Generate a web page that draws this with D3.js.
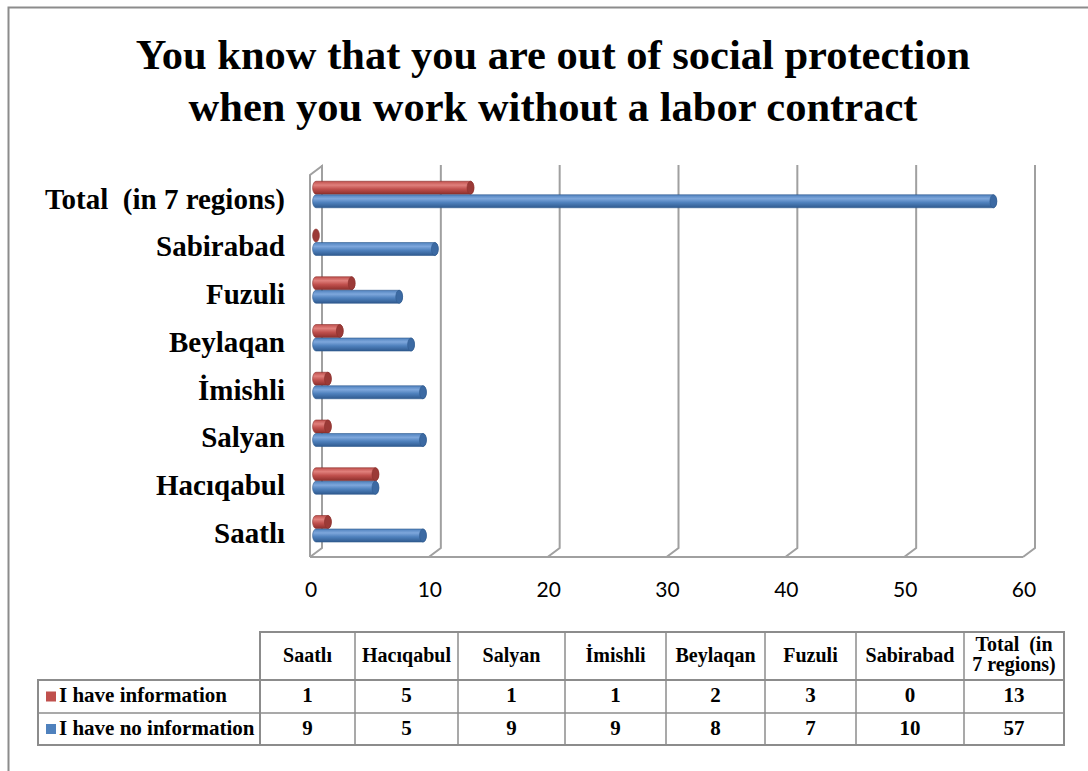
<!DOCTYPE html>
<html>
<head>
<meta charset="utf-8">
<script src="https://cdnjs.cloudflare.com/ajax/libs/d3/7.8.5/d3.min.js"></script>
<style>
  html, body { margin: 0; padding: 0; background: #fff; }
  svg { display: block; }
  text { white-space: pre; }
</style>
</head>
<body>
<svg id="chart" width="1088" height="771"></svg>
<script>
// Regions, in table order (the bar chart lists them bottom-to-top)
const regions = ["Saatlı", "Hacıqabul", "Salyan", "İmishli", "Beylaqan", "Fuzuli", "Sabirabad", "Total  (in 7 regions)"];
const tableHeaders = ["Saatlı", "Hacıqabul", "Salyan", "İmishli", "Beylaqan", "Fuzuli", "Sabirabad", ["Total  (in", "7 regions)"]];
const seriesNames = ["I have information", "I have no information"];
const haveInfo   = [1, 5, 1, 1, 2, 3, 0, 13];
const noInfo     = [9, 5, 9, 9, 8, 7, 10, 57];
const xTicks = [0, 10, 20, 30, 40, 50, 60];
const titleLines = ["You know that you are out of social protection", "when you work without a labor contract"];

const colors = {
  red:  { base: "#c0504d", light: "#e0807c", dark: "#8c2f2c", cap: "#9b3a37" },
  blue: { base: "#4f81bd", light: "#7ea7dc", dark: "#2f5a8f", cap: "#3c6aa3" }
};
const seriesColors = [colors.red, colors.blue];

const svg = d3.select("#chart");
const serif = "'Liberation Serif', 'Times New Roman', serif";

// outer frame
svg.append("path").attr("d", "M8.5,771 V7.5 H1088")
  .attr("fill", "none").attr("stroke", "#8c8c8c").attr("stroke-width", 2);

// title
svg.append("g").selectAll("text").data(titleLines).join("text")
  .attr("x", 553).attr("y", (d, i) => 69 + i * 52)
  .attr("text-anchor", "middle")
  .attr("font-family", serif).attr("font-weight", "bold").attr("font-size", 42.5)
  .attr("fill", "#000").text(d => d);

// 3D geometry: front plane, back plane, and the plane where bars sit
const depth = { dx: 12, dy: -9 };
const xFront = d3.scaleLinear().domain([0, 60]).range([310, 1023]);
const xBack  = d3.scaleLinear().domain([0, 60]).range([310 + depth.dx, 1023 + depth.dx]);
const xBar   = d3.scaleLinear().domain([0, 60]).range([316, 1029]);
const yTop = 175, yBottom = 557;

const order = regions.slice().reverse(); // top-to-bottom
const yBand = d3.scaleBand().domain(order).range([yTop, yBottom]);
const ySub = d3.scaleBand().domain(seriesNames).range([6, 33]);
const barH = 13;

const grid = svg.append("g").attr("stroke", "#a0a0a0").attr("stroke-width", 2).attr("fill", "none");
// left wall
grid.append("path").attr("d",
  `M${xFront(0)},${yBottom} V${yTop} L${xBack(0)},${yTop + depth.dy} V${yBottom + depth.dy}`);
// floor front edge
grid.append("path").attr("d", `M${xFront(0)},${yBottom} H${xFront(60)}`);
// back wall gridlines with floor diagonals
xTicks.forEach(t => {
  grid.append("path").attr("d",
    `M${xFront(t)},${yBottom} L${xBack(t)},${yBottom + depth.dy} V${yTop + depth.dy - 1}`);
});

// gradients for cylinder shading
const defs = svg.append("defs");
["red", "blue"].forEach(k => {
  const c = colors[k];
  const g = defs.append("linearGradient").attr("id", "cyl-" + k)
    .attr("x1", 0).attr("y1", 0).attr("x2", 0).attr("y2", 1);
  g.append("stop").attr("offset", "0%").attr("stop-color", c.base);
  g.append("stop").attr("offset", "30%").attr("stop-color", c.light);
  g.append("stop").attr("offset", "60%").attr("stop-color", c.base);
  g.append("stop").attr("offset", "100%").attr("stop-color", c.dark);
});

// bars as horizontal cylinders
const bars = svg.append("g");
const seriesValues = [haveInfo, noInfo];
regions.forEach((r, i) => {
  seriesValues.forEach((vals, s) => {
    const v = vals[i];
    const key = s === 0 ? "red" : "blue";
    const c = seriesColors[s];
    const cy = yBand(r) + ySub(seriesNames[s]) + ySub.bandwidth() / 2;
    const x0 = xBar(0), x1 = xBar(v);
    const rx = 3.4, ry = barH / 2;
    if (v > 0) {
      bars.append("path")
        .attr("d", `M${x0},${cy - ry} H${x1} A${rx},${ry} 0 0 1 ${x1},${cy + ry} H${x0} A${rx},${ry} 0 0 1 ${x0},${cy - ry} Z`)
        .attr("fill", `url(#cyl-${key})`)
        .attr("stroke", c.dark).attr("stroke-width", 0.6);
    }
    bars.append("ellipse")
      .attr("cx", x1).attr("cy", cy).attr("rx", rx).attr("ry", ry)
      .attr("fill", c.cap).attr("stroke", c.dark).attr("stroke-width", 0.6);
  });
});

// category labels
svg.append("g").selectAll("text").data(regions).join("text")
  .attr("x", 285).attr("y", d => yBand(d) + yBand.bandwidth() / 2 + 3)
  .attr("dominant-baseline", "middle").attr("text-anchor", "end")
  .attr("font-family", serif).attr("font-weight", "bold").attr("font-size", 29)
  .attr("fill", "#000").text(d => d);

// value axis labels
svg.append("g").selectAll("text").data(xTicks).join("text")
  .attr("x", d => xFront(d) + 1).attr("y", 592)
  .attr("dominant-baseline", "middle").attr("text-anchor", "middle")
  .attr("font-family", "Lato, 'Open Sans', sans-serif").attr("font-size", 21)
  .attr("fill", "#000").text(d => d);

// data table
const colEdges = [260, 355, 458, 565, 666, 765, 856, 964, 1064];
const labelLeft = 38;
const rowEdges = [632, 680, 713, 745];
const table = svg.append("g");
const tStroke = "#8c8c8c";
table.append("rect").attr("x", colEdges[0]).attr("y", rowEdges[0])
  .attr("width", colEdges[8] - colEdges[0]).attr("height", rowEdges[3] - rowEdges[0])
  .attr("fill", "none").attr("stroke", tStroke).attr("stroke-width", 2);
table.append("rect").attr("x", labelLeft).attr("y", rowEdges[1])
  .attr("width", colEdges[8] - labelLeft).attr("height", rowEdges[3] - rowEdges[1])
  .attr("fill", "none").attr("stroke", tStroke).attr("stroke-width", 2);
colEdges.slice(1, -1).forEach(x => {
  table.append("line").attr("x1", x).attr("x2", x).attr("y1", rowEdges[0]).attr("y2", rowEdges[3])
    .attr("stroke", tStroke).attr("stroke-width", 1.5);
});
table.append("line").attr("x1", labelLeft).attr("x2", colEdges[8])
  .attr("y1", rowEdges[2]).attr("y2", rowEdges[2]).attr("stroke", tStroke).attr("stroke-width", 1.5);

const colCenter = i => (colEdges[i] + colEdges[i + 1]) / 2;
tableHeaders.forEach((h, i) => {
  const lines = Array.isArray(h) ? h : [h];
  lines.forEach((ln, j) => {
    table.append("text")
      .attr("x", colCenter(i)).attr("y", lines.length === 1 ? 657 : 646 + j * 20)
      .attr("dominant-baseline", "middle").attr("text-anchor", "middle")
      .attr("font-family", serif).attr("font-weight", "bold").attr("font-size", 20)
      .attr("fill", "#000").text(ln);
  });
});
seriesValues.forEach((vals, s) => {
  const cy = (rowEdges[s + 1] + rowEdges[s + 2]) / 2 + 1;
  table.append("rect").attr("x", 46).attr("y", cy - 6).attr("width", 10).attr("height", 10)
    .attr("fill", seriesColors[s].base);
  table.append("text").attr("x", 59).attr("y", cy)
    .attr("dominant-baseline", "middle")
    .attr("font-family", serif).attr("font-weight", "bold").attr("font-size", 21)
    .attr("fill", "#000").text(seriesNames[s]);
  vals.forEach((v, i) => {
    table.append("text").attr("x", colCenter(i)).attr("y", cy)
      .attr("dominant-baseline", "middle").attr("text-anchor", "middle")
      .attr("font-family", serif).attr("font-weight", "bold").attr("font-size", 21)
      .attr("fill", "#000").text(v);
  });
});
</script>
</body>
</html>
